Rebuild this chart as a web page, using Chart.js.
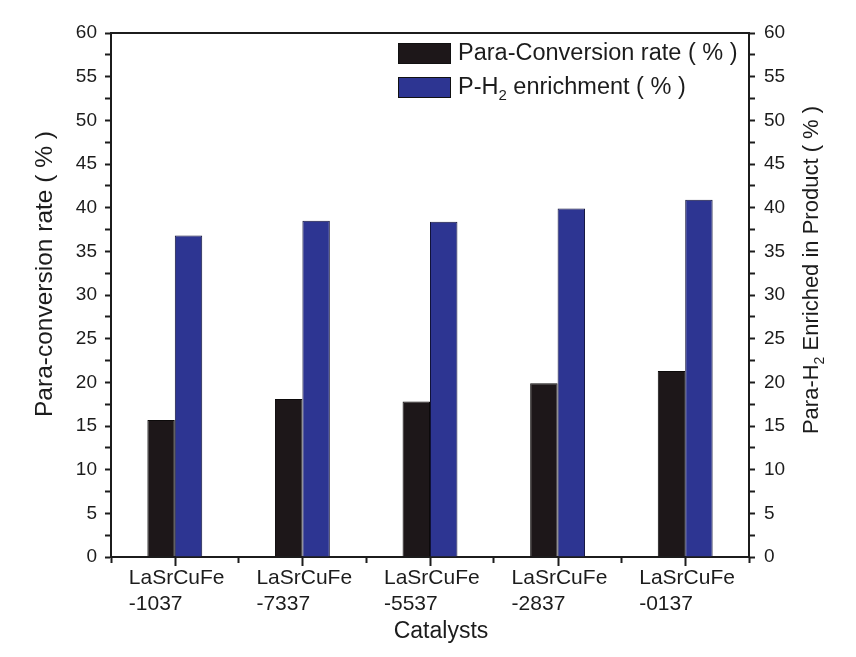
<!DOCTYPE html>
<html>
<head>
<meta charset="utf-8">
<script src="https://cdn.jsdelivr.net/npm/chart.js@4.4.1/dist/chart.umd.min.js"></script>
<style>
    html, body { margin: 0; padding: 0; background: #fff; }
    #wrap { width: 856px; height: 657px; }
</style>
</head>
<body>
<div id="wrap"><canvas id="chart" width="856" height="657"></canvas></div>
<script>
        // Datos
        const catalysts = [
            ['LaSrCuFe', '-1037'],
            ['LaSrCuFe', '-7337'],
            ['LaSrCuFe', '-5537'],
            ['LaSrCuFe', '-2837'],
            ['LaSrCuFe', '-0137']
        ];
        const conversionRate = [15.7, 18.1, 17.8, 19.9, 21.3];
        const enrichment = [36.8, 38.5, 38.4, 39.9, 40.9];
        const yMin = 0;
        const yMax = 60;
        const yStep = 2.5;
        const yLabelEvery = 5;

        const FONT = 'Liberation Sans, Arial, sans-serif';
        const TEXT = '#1c1c1c';
        const BLACK = '#1d1719';
        const BLUE = '#2d3592';

        // Fija el tamaño de cada eje para colocar el área de dibujo
        const fixWidth = w => scale => { scale.width = w; };
        const fixHeight = h => scale => { scale.height = h; };

        const yTickCallback = v => (v % yLabelEvery === 0 ? v : '');

        function partsWidth(ctx, parts, size) {
            let total = 0;
            parts.forEach(p => {
                ctx.font = (p.sub ? Math.round(size * 0.65) : size) + 'px ' + FONT;
                total += ctx.measureText(p.t).width;
            });
            return total;
        }

        // Dibuja texto (con subíndice) centrado en x
        function drawSubText(ctx, parts, x, y, size) {
            let cx = x - partsWidth(ctx, parts, size) / 2;
            parts.forEach(p => {
                ctx.font = (p.sub ? Math.round(size * 0.65) : size) + 'px ' + FONT;
                ctx.fillText(p.t, cx, p.sub ? y + size * 0.35 : y);
                cx += ctx.measureText(p.t).width;
            });
        }

        const extrasPlugin = {
            id: 'extras',
            afterDraw(chart) {
                const ctx = chart.ctx;
                const area = chart.chartArea;
                const x = chart.scales.x;
                ctx.save();

                // Marcas centrales del eje de categorías
                ctx.strokeStyle = TEXT;
                ctx.lineWidth = 2;
                catalysts.forEach((c, i) => {
                    const px = Math.round(x.getPixelForTick(i)) + 0.5;
                    ctx.beginPath();
                    ctx.moveTo(px, area.bottom);
                    ctx.lineTo(px, area.bottom + 9);
                    ctx.stroke();
                });

                ctx.textBaseline = 'middle';
                ctx.textAlign = 'left';

                // Leyenda dentro del área
                const legendSize = 23.5;
                chart.data.datasets.forEach((ds, i) => {
                    const top = area.top + 10 + i * 34;
                    ctx.fillStyle = ds.backgroundColor;
                    ctx.fillRect(398, top, 53, 21);
                    ctx.strokeStyle = '#111';
                    ctx.lineWidth = 1;
                    ctx.strokeRect(398.5, top + 0.5, 52, 20);
                    ctx.fillStyle = TEXT;
                    const w = partsWidth(ctx, ds.legendParts, legendSize);
                    drawSubText(ctx, ds.legendParts, 458 + w / 2, top + 11, legendSize);
                });

                // Títulos de los ejes
                ctx.fillStyle = TEXT;
                ctx.font = '23px ' + FONT;
                ctx.textAlign = 'center';
                ctx.fillText('Catalysts', 441, 632);

                ctx.textAlign = 'left';
                ctx.translate(45, 274);
                ctx.rotate(-Math.PI / 2);
                drawSubText(ctx, [{ t: 'Para-conversion rate ( % )' }], 0, 0, 24.5);
                ctx.setTransform(1, 0, 0, 1, 0, 0);

                ctx.translate(812, 270);
                ctx.rotate(-Math.PI / 2);
                drawSubText(ctx, [
                    { t: 'Para-H' }, { t: '2', sub: true }, { t: ' Enriched in Product ( % )' }
                ], 0, 0, 22);
                ctx.restore();
            }
        };

        const yTicks = {
            stepSize: yStep,
            callback: yTickCallback,
            color: TEXT,
            font: { family: FONT, size: 19 },
            autoSkip: false
        };

        new Chart(document.getElementById('chart'), {
            type: 'bar',
            data: {
                labels: catalysts,
                datasets: [{
                    label: 'Para-Conversion rate ( % )',
                    legendParts: [{ t: 'Para-Conversion rate ( % )' }],
                    data: conversionRate,
                    backgroundColor: BLACK,
                    borderColor: '#0c0a0a',
                    borderWidth: 1,
                    yAxisID: 'y'
                }, {
                    label: 'P-H2 enrichment ( % )',
                    legendParts: [{ t: 'P-H' }, { t: '2', sub: true }, { t: ' enrichment ( % )' }],
                    data: enrichment,
                    backgroundColor: BLUE,
                    borderColor: '#10123a',
                    borderWidth: 1,
                    yAxisID: 'y1'
                }]
            },
            options: {
                responsive: false,
                animation: false,
                devicePixelRatio: 1,
                layout: { padding: 0 },
                categoryPercentage: 0.43,
                barPercentage: 1,
                plugins: {
                    legend: { display: false },
                    tooltip: { enabled: false }
                },
                scales: {
                    x: {
                        position: 'bottom',
                        offset: true,
                        grid: { offset: true, drawOnChartArea: false, tickLength: 6, tickWidth: 2, tickColor: TEXT },
                        border: { display: true, color: TEXT, width: 2 },
                        ticks: {
                            color: TEXT,
                            font: { family: FONT, size: 21, lineHeight: 1.2 },
                            align: 'start',
                            labelOffset: -46,
                            padding: 3,
                            maxRotation: 0,
                            autoSkip: false
                        },
                        afterFit: fixHeight(100)
                    },
                    xTop: {
                        position: 'top',
                        type: 'category',
                        grid: { display: false, drawTicks: false },
                        border: { display: true, color: TEXT, width: 2 },
                        ticks: { display: false },
                        afterFit: fixHeight(33)
                    },
                    y: {
                        position: 'left',
                        min: yMin,
                        max: yMax,
                        grid: { drawOnChartArea: false, tickLength: 6, tickWidth: 2, tickColor: TEXT },
                        border: { display: true, color: TEXT, width: 2 },
                        ticks: Object.assign({ padding: 8 }, yTicks),
                        afterFit: fixWidth(111)
                    },
                    y1: {
                        position: 'right',
                        min: yMin,
                        max: yMax,
                        grid: { drawOnChartArea: false, tickLength: 6, tickWidth: 2, tickColor: TEXT },
                        border: { display: true, color: TEXT, width: 2 },
                        ticks: Object.assign({ padding: 9 }, yTicks),
                        afterFit: fixWidth(107)
                    }
                }
            },
            plugins: [extrasPlugin]
        });
</script>
</body>
</html>
